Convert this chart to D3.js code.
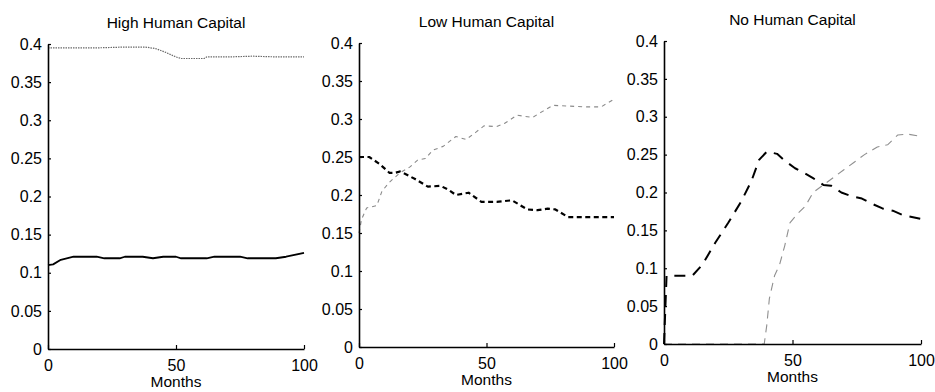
<!DOCTYPE html>
<html>
<head>
<meta charset="utf-8">
<script src="https://cdn.jsdelivr.net/npm/d3@7"></script>
<style>
  html, body { margin: 0; padding: 0; background: #fff; }
  svg { display: block; }
  text { font-family: "Liberation Sans", Arial, sans-serif; fill: #000; }
</style>
</head>
<body>
<svg id="chart" width="935" height="392"></svg>
<script>
// ---- data ----
const panelTitles = ["High Human Capital", "Low Human Capital", "No Human Capital"];
const xTickValues = [0, 50, 100];
const xTickLabels = ["0", "50", "100"];
const yTickValues = [0, 0.05, 0.1, 0.15, 0.2, 0.25, 0.3, 0.35, 0.4];
const yTickLabels = ["0", "0.05", "0.1", "0.15", "0.2", "0.25", "0.3", "0.35", "0.4"];
const xLabel = "Months";

// Panel 1: High Human Capital
const p1LightMonths = [0, 10, 20, 30, 38, 42, 46, 50, 52, 58, 61, 62, 70, 80, 90, 100];
const p1LightValues = [0.395, 0.395, 0.395, 0.396, 0.396, 0.394, 0.389, 0.383, 0.381, 0.381, 0.381, 0.383, 0.383, 0.384, 0.383, 0.383];
const p1DarkMonths = [0, 2, 5, 10, 15, 19, 22, 28, 30, 37, 41, 45, 50, 52, 62, 65, 75, 78, 89, 93, 100];
const p1DarkValues = [0.110, 0.111, 0.117, 0.121, 0.121, 0.121, 0.119, 0.119, 0.121, 0.121, 0.119, 0.121, 0.121, 0.119, 0.119, 0.121, 0.121, 0.119, 0.119, 0.121, 0.126];

// Panel 2: Low Human Capital
const p2DarkMonths = [0, 4, 8, 12, 14, 16, 18, 22, 27, 32, 35, 38, 43, 48, 54, 60, 66, 70, 74, 77, 82, 100];
const p2DarkValues = [0.25, 0.25, 0.241, 0.229, 0.229, 0.231, 0.228, 0.221, 0.211, 0.212, 0.207, 0.2, 0.203, 0.191, 0.191, 0.193, 0.181, 0.18, 0.182, 0.181, 0.171, 0.171];
const p2LightMonths = [0, 1, 3, 7, 9, 12, 16, 20, 23, 26, 29, 33, 38, 42, 46, 49, 54, 57, 62, 68, 72, 76, 82, 89, 95, 100];
const p2LightValues = [0.15, 0.168, 0.183, 0.186, 0.205, 0.217, 0.229, 0.237, 0.246, 0.248, 0.259, 0.264, 0.277, 0.273, 0.283, 0.291, 0.29, 0.294, 0.305, 0.302, 0.31, 0.318, 0.317, 0.316, 0.316, 0.326];

// Panel 3: No Human Capital
const p3DarkMonths = [0, 1, 11, 15, 20, 25, 30, 34, 37, 40, 44, 47, 51, 55, 58, 62, 65, 69, 73, 77, 81, 85, 89, 93, 100];
const p3DarkValues = [0, 0.09, 0.09, 0.105, 0.134, 0.16, 0.188, 0.215, 0.243, 0.254, 0.251, 0.242, 0.232, 0.225, 0.219, 0.21, 0.209, 0.2, 0.195, 0.192, 0.185, 0.179, 0.176, 0.17, 0.165];
const p3LightMonths = [0, 39, 40, 41, 43, 45, 47, 49, 52, 55, 58, 62, 66, 70, 74, 78, 83, 87, 91, 95, 100];
const p3LightValues = [0, 0, 0.025, 0.06, 0.09, 0.105, 0.13, 0.16, 0.172, 0.182, 0.2, 0.21, 0.22, 0.23, 0.24, 0.25, 0.26, 0.263, 0.276, 0.277, 0.274];

// ---- layout ----
const panels = [
  { x0: 48, x1: 304, y0: 349, y1: 44, series: [
      { m: p1LightMonths, v: p1LightValues, color: "#6a6a6a", width: 1.2, dash: "1.5,1" },
      { m: p1DarkMonths, v: p1DarkValues, color: "#000", width: 1.8, dash: null } ] },
  { x0: 359, x1: 614, y0: 347, y1: 43, series: [
      { m: p2LightMonths, v: p2LightValues, color: "#8a8a8a", width: 1.1, dash: "4,4" },
      { m: p2DarkMonths, v: p2DarkValues, color: "#000", width: 2.2, dash: "5,3.5" } ] },
  { x0: 664, x1: 921, y0: 344, y1: 41, series: [
      { m: p3LightMonths, v: p3LightValues, color: "#8f8f8f", width: 1.1, dash: "8,6" },
      { m: p3DarkMonths, v: p3DarkValues, color: "#000", width: 2, dash: "11,8" } ] }
];

const svg = d3.select("#chart");

panels.forEach((p, i) => {
  const x = d3.scaleLinear().domain([0, 100]).range([p.x0, p.x1]);
  const y = d3.scaleLinear().domain([0, 0.4]).range([p.y0, p.y1]);
  const g = svg.append("g");

  // lines
  const line = d3.line().x(d => x(d[0])).y(d => y(d[1]));
  p.series.forEach(s => {
    const pts = s.m.map((mm, k) => [mm, s.v[k]]);
    const path = g.append("path")
      .attr("d", line(pts))
      .attr("fill", "none")
      .attr("stroke", s.color)
      .attr("stroke-width", s.width)
      .attr("stroke-linejoin", "round");
    if (s.dash) path.attr("stroke-dasharray", s.dash);
  });

  // axes
  const yAxis = d3.axisLeft(y)
    .tickValues(yTickValues)
    .tickFormat((d, k) => yTickLabels[k])
    .tickSizeInner(-3).tickSizeOuter(0).tickPadding(6);
  const gy = g.append("g").attr("transform", `translate(${p.x0},0)`).call(yAxis);

  const xAxis = d3.axisBottom(x)
    .tickValues(xTickValues)
    .tickFormat((d, k) => xTickLabels[k])
    .tickSizeInner(-4).tickSizeOuter(0).tickPadding(11);
  const gx = g.append("g").attr("transform", `translate(0,${p.y0})`).call(xAxis);

  [gy, gx].forEach(ax => {
    ax.select(".domain").attr("stroke", "#000").attr("stroke-width", 1.6);
    ax.selectAll(".tick line").attr("stroke", "#000").attr("stroke-width", 1.2);
    ax.selectAll(".tick text").attr("font-size", 16)
      .attr("font-family", "Liberation Sans, Arial, sans-serif").attr("fill", "#000");
  });

  // title
  g.append("text")
    .attr("x", (p.x0 + p.x1) / 2)
    .attr("y", p.y1 - 16)
    .attr("text-anchor", "middle")
    .attr("font-size", 15.5)
    .text(panelTitles[i]);

  // x label
  g.append("text")
    .attr("x", (p.x0 + p.x1) / 2)
    .attr("y", p.y0 + 38)
    .attr("text-anchor", "middle")
    .attr("font-size", 15.5)
    .text(xLabel);
});
</script>
</body>
</html>
